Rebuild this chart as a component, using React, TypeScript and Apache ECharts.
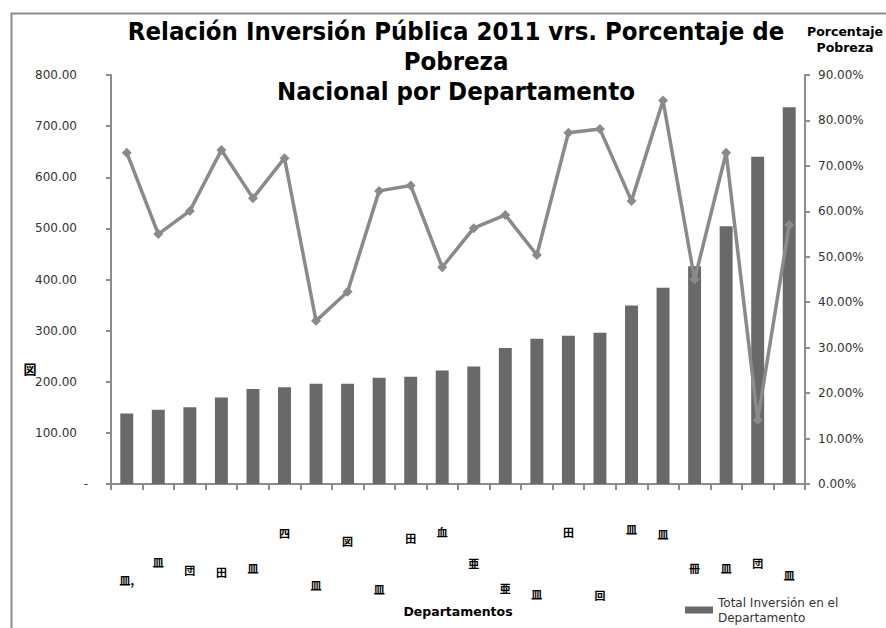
import React, { useEffect, useRef } from "react";
import * as echarts from "echarts";

// Category labels appear as unreadable glyph boxes in the reference
const categories = [
  "皿,", "皿", "団", "田", "皿", "四", "皿", "図", "皿", "田", "血",
  "亜", "亜", "皿", "田", "回", "皿", "皿", "冊", "皿", "団", "皿",
].map((c, i) => c + "\u200b".repeat(i));
const inversion = [
  138, 145, 150, 169, 186, 189, 196, 196, 208, 210, 222,
  230, 266, 284, 290, 296, 349, 384, 426, 504, 640, 737,
];
const pobreza = [
  72.9, 55.0, 60.1, 73.5, 62.9, 71.7, 35.9, 42.3, 64.5, 65.7, 47.7,
  56.3, 59.2, 50.4, 77.3, 78.1, 62.3, 84.4, 45.0, 72.9, 14.1, 57.0,
];
const leftTicks = { min: 0, max: 800, interval: 100 };
const rightTicks = { min: 0, max: 90, interval: 10 };

// layout: vertical drop of each category label below the axis (px)
const labelDrop = [96, 78, 86, 88, 84, 49, 101, 57, 105, 54, 48, 79, 104, 110, 48, 111, 45, 50, 84, 84, 79, 91];

export default function App() {
  const ref = useRef<HTMLDivElement>(null);
  useEffect(() => {
    const chart = echarts.init(ref.current!, null, { renderer: "svg" });
    const rich: Record<string, any> = {};
    labelDrop.forEach((d, i) => {
      rich["o" + i] = {
        fontSize: 11,
        lineHeight: 12,
        fontWeight: "bold",
        color: "#000",
        fontFamily: "Noto Sans CJK JP",
        padding: [Math.max(0, 2 * (d - 8)), 0, 0, 0],
      };
    });
    const axisGray = "#8c8c8c";
    chart.setOption({
      animation: false,
      backgroundColor: "#fff",
      textStyle: { fontFamily: "DejaVu Sans" },
      title: {
        text: "Relación Inversión Pública 2011 vrs. Porcentaje de\nPobreza\nNacional por Departamento",
        left: 451,
        top: 11,
        textAlign: "center",
        textStyle: {
          fontFamily: "DejaVu Sans Condensed",
          fontWeight: "bold",
          fontSize: 25.5,
          lineHeight: 30,
          color: "#000",
        },
      },
      legend: {
        data: [{ name: "Total Inversión en el Departamento", icon: "rect" }],
        left: 680,
        top: 590,
        itemWidth: 28,
        itemHeight: 7,
        itemGap: 2,
        formatter: () => "Total Inversión en el\nDepartamento",
        textStyle: { fontFamily: "DejaVu Sans", fontSize: 12, color: "#333", lineHeight: 15 },
      },
      grid: { left: 111, right: 81, top: 75, bottom: 144, containLabel: false },
      xAxis: {
        type: "category",
        data: categories,
        name: "Departamentos",
        nameLocation: "middle",
        nameGap: 120,
        nameTextStyle: { fontFamily: "DejaVu Sans", fontWeight: "bold", fontSize: 12.5, color: "#000" },
        axisLine: { show: true, lineStyle: { color: axisGray, width: 2 } },
        axisTick: { show: true, length: 6, lineStyle: { color: axisGray, width: 2 } },
        axisLabel: {
          interval: 0,
          margin: 2,
          verticalAlign: "top",
          formatter: (v: string, i: number) => `{o${i}|${v}}`,
          rich,
        },
        splitLine: { show: false },
      },
      yAxis: [
        {
          type: "value",
          min: leftTicks.min,
          max: leftTicks.max,
          interval: leftTicks.interval,
          axisLine: { show: true, lineStyle: { color: axisGray, width: 2 } },
          axisTick: { show: true, length: 5, lineStyle: { color: axisGray, width: 2 } },
          axisLabel: {
            margin: 23,
            fontSize: 12,
            color: "#333",
            formatter: (v: number) => (v === 0 ? "{d|-}" : `{n|${v.toFixed(2)}}`),
            rich: {
              d: { fontSize: 12, color: "#333" },
              n: { fontSize: 12, color: "#333", padding: [0, 11, 0, 0] },
            },
          },
          splitLine: { show: false },
        },
        {
          type: "value",
          min: rightTicks.min,
          max: rightTicks.max,
          interval: rightTicks.interval,
          position: "right",
          axisLine: { show: true, lineStyle: { color: axisGray, width: 2 } },
          axisTick: { show: true, length: 5, lineStyle: { color: axisGray, width: 2 } },
          axisLabel: {
            margin: 13,
            fontSize: 12,
            color: "#333",
            formatter: (v: number) => v.toFixed(2) + "%",
          },
          splitLine: { show: false },
        },
      ],
      series: [
        {
          name: "Total Inversión en el Departamento",
          type: "bar",
          data: inversion,
          barWidth: "41%",
          itemStyle: { color: "#696969" },
          z: 2,
        },
        {
          name: "Porcentaje Pobreza",
          type: "line",
          yAxisIndex: 1,
          data: pobreza,
          symbol: "diamond",
          symbolSize: 10,
          lineStyle: { color: "#8a8a8a", width: 3.5 },
          itemStyle: { color: "#8a8a8a" },
          z: 3,
        },
      ],
      graphic: [
        {
          type: "rect",
          left: 9,
          top: 11,
          shape: { width: 1000, height: 1000 },
          style: { fill: "none", stroke: "#8c8c8c", lineWidth: 2 },
          silent: true,
        },
        {
          type: "text",
          x: 845,
          y: 23,
          style: {
            text: "Porcentaje\nPobreza",
            font: "bold 12.5px 'DejaVu Sans'",
            fill: "#000",
            align: "center",
            lineHeight: 16,
          },
        },
        {
          type: "text",
          x: 30,
          y: 368,
          style: {
            text: "図",
            font: "bold 13px 'Noto Sans CJK JP'",
            fill: "#000",
            align: "center",
            verticalAlign: "middle",
          },
        },
      ],
    });
    return () => chart.dispose();
  }, []);
  return (
    <div
      ref={ref}
      style={{ position: "fixed", left: 0, top: 0, width: 886, height: 628 }}
    />
  );
}
